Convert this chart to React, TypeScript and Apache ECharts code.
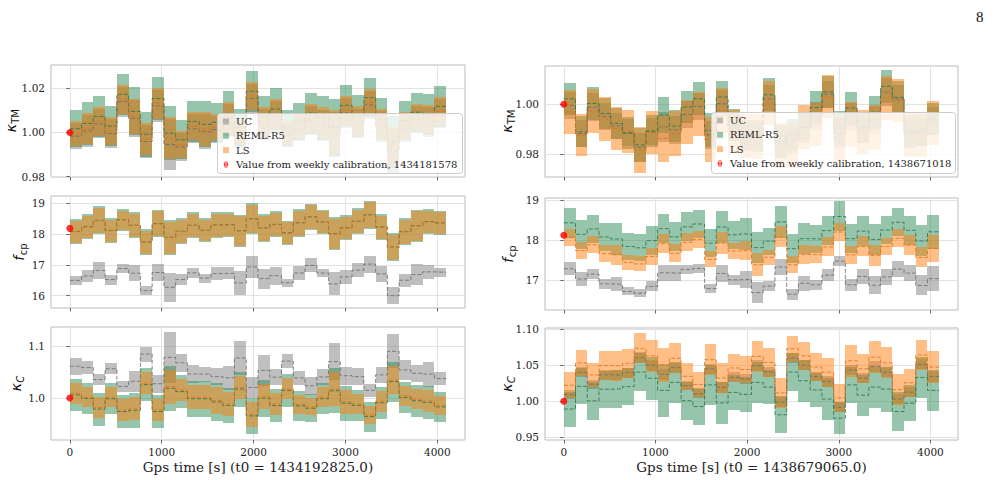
import React, { useEffect, useRef } from "react";
import * as echarts from "echarts";

// Bin start times [s]; each bin is 128 s long
const TIMES = [0, 128, 256, 384, 512, 640, 768, 896, 1024, 1152, 1280, 1408, 1536, 1664, 1792, 1920, 2048, 2176, 2304, 2432, 2560, 2688, 2816, 2944, 3072, 3200, 3328, 3456, 3584, 3712, 3840, 3968];
const BIN = 128;
const T_END = 4096;

// ---- Left column (t0 = 1434192825.0) ----
// kappa_TM
const L_KTM_UC_MED = [0.9983, 1.0008, 1.0039, 0.9995, 1.0140, 1.0063, 0.9959, 1.0121, 0.9945, 0.9934, 1.0017, 1.0004, 1.0013, 1.0053, 0.9991, 1.0154, 1.0038, 1.0073, 0.9988, 1.0018, 1.0054, 1.0032, 0.9990, 1.0089, 1.0040, 1.0125, 1.0028, 0.9913, 1.0019, 1.0059, 1.0048, 1.0085];
const L_KTM_UC_ERR = [0.0058, 0.0072, 0.0066, 0.0064, 0.0068, 0.0082, 0.0076, 0.0072, 0.0115, 0.0063, 0.0066, 0.0079, 0.0062, 0.0075, 0.0058, 0.0066, 0.0070, 0.0070, 0.0055, 0.0057, 0.0067, 0.0072, 0.0102, 0.0067, 0.0067, 0.0062, 0.0070, 0.0103, 0.0061, 0.0063, 0.0067, 0.0066];
const L_KTM_REML_MED = [1.0017, 1.0041, 1.0073, 1.0029, 1.0173, 1.0096, 0.9992, 1.0154, 0.9997, 0.9967, 1.0050, 1.0037, 1.0046, 1.0086, 1.0024, 1.0187, 1.0071, 1.0106, 1.0021, 1.0051, 1.0088, 1.0066, 1.0024, 1.0123, 1.0074, 1.0158, 1.0061, 0.9958, 1.0053, 1.0092, 1.0082, 1.0118];
const L_KTM_REML_ERR = [0.0085, 0.0098, 0.0093, 0.0091, 0.0094, 0.0108, 0.0102, 0.0098, 0.0122, 0.0089, 0.0092, 0.0105, 0.0088, 0.0101, 0.0084, 0.0092, 0.0096, 0.0096, 0.0081, 0.0083, 0.0093, 0.0098, 0.0129, 0.0093, 0.0094, 0.0088, 0.0096, 0.0118, 0.0088, 0.0089, 0.0094, 0.0092];
const L_KTM_LS_MED = [0.9995, 1.0019, 1.0051, 1.0007, 1.0151, 1.0074, 0.9970, 1.0132, 0.9975, 0.9945, 1.0028, 1.0015, 1.0024, 1.0064, 1.0002, 1.0165, 1.0049, 1.0084, 0.9999, 1.0029, 1.0066, 1.0044, 1.0002, 1.0101, 1.0052, 1.0136, 1.0039, 0.9936, 1.0031, 1.0070, 1.0060, 1.0096];
const L_KTM_LS_ERR = [0.0057, 0.0070, 0.0065, 0.0063, 0.0066, 0.0080, 0.0074, 0.0070, 0.0094, 0.0061, 0.0064, 0.0077, 0.0060, 0.0073, 0.0056, 0.0064, 0.0068, 0.0068, 0.0053, 0.0055, 0.0065, 0.0070, 0.0100, 0.0065, 0.0066, 0.0060, 0.0068, 0.0090, 0.0060, 0.0061, 0.0066, 0.0064];

// f_cp
const L_FCP_UC_MED = [16.495, 16.636, 16.816, 16.522, 16.881, 16.728, 16.163, 16.75, 16.272, 16.522, 16.739, 16.571, 16.718, 16.723, 16.413, 16.93, 16.554, 16.647, 16.419, 16.734, 16.979, 16.734, 16.381, 16.609, 16.826, 17.022, 16.707, 16.0, 16.5, 16.685, 16.772, 16.756];
const L_FCP_UC_ERR = [0.136, 0.19, 0.283, 0.163, 0.131, 0.261, 0.152, 0.283, 0.478, 0.185, 0.163, 0.147, 0.218, 0.19, 0.38, 0.353, 0.326, 0.288, 0.136, 0.234, 0.228, 0.125, 0.37, 0.218, 0.217, 0.272, 0.261, 0.283, 0.217, 0.326, 0.218, 0.147];
const L_FCP_REML_MED = [18.082, 18.234, 18.44, 18.114, 18.462, 18.283, 17.739, 18.337, 17.892, 18.087, 18.283, 18.12, 18.294, 18.299, 18.104, 18.495, 18.196, 18.31, 18.038, 18.364, 18.554, 18.386, 18.011, 18.201, 18.413, 18.62, 18.228, 17.571, 18.076, 18.267, 18.402, 18.359];
const L_FCP_REML_ERR = [0.397, 0.408, 0.451, 0.397, 0.353, 0.424, 0.424, 0.446, 0.566, 0.424, 0.424, 0.392, 0.414, 0.408, 0.517, 0.506, 0.446, 0.419, 0.397, 0.451, 0.424, 0.397, 0.533, 0.397, 0.424, 0.457, 0.424, 0.451, 0.435, 0.517, 0.413, 0.392];
const L_FCP_LS_MED = [18.072, 18.224, 18.43, 18.104, 18.452, 18.273, 17.729, 18.327, 17.882, 18.077, 18.273, 18.11, 18.284, 18.289, 18.094, 18.485, 18.186, 18.3, 18.028, 18.354, 18.544, 18.376, 18.001, 18.191, 18.403, 18.61, 18.218, 17.561, 18.066, 18.257, 18.392, 18.349];
const L_FCP_LS_ERR = [0.352, 0.363, 0.406, 0.352, 0.308, 0.379, 0.379, 0.401, 0.521, 0.379, 0.379, 0.347, 0.369, 0.363, 0.472, 0.461, 0.401, 0.374, 0.352, 0.406, 0.379, 0.352, 0.488, 0.352, 0.379, 0.412, 0.379, 0.406, 0.39, 0.472, 0.368, 0.347];

// kappa_C
const L_KC_UC_MED = [1.0609, 1.0584, 1.0353, 1.0561, 1.0221, 1.0321, 1.0843, 1.0273, 1.0779, 1.0676, 1.0459, 1.0459, 1.041, 1.0388, 1.0769, 1.0202, 1.0529, 1.0401, 1.0708, 1.0385, 1.0234, 1.0404, 1.0699, 1.0427, 1.041, 1.0145, 1.0443, 1.0897, 1.0539, 1.0475, 1.0459, 1.0372];
const L_KC_UC_ERR = [0.0167, 0.0129, 0.0103, 0.0106, 0.0112, 0.0199, 0.0144, 0.017, 0.0497, 0.017, 0.0177, 0.0145, 0.016, 0.0234, 0.0327, 0.0208, 0.0298, 0.0151, 0.0138, 0.0135, 0.0176, 0.0154, 0.0353, 0.0177, 0.016, 0.0119, 0.0161, 0.0327, 0.0193, 0.0161, 0.0241, 0.0122];
const L_KC_REML_MED = [1.0058, 0.999, 0.9786, 0.9984, 0.9738, 0.976, 1.0256, 0.9738, 1.0186, 1.0122, 0.9984, 0.9984, 0.992, 0.9856, 1.017, 0.9654, 0.9994, 0.9853, 1.0144, 0.9847, 0.9802, 0.9984, 1.0138, 0.9898, 0.9856, 0.9641, 0.9907, 1.0314, 1.001, 0.9946, 0.9914, 0.9827];
const L_KC_REML_ERR = [0.0308, 0.0305, 0.0318, 0.0298, 0.0321, 0.033, 0.0314, 0.0321, 0.0436, 0.032, 0.0343, 0.0343, 0.0362, 0.0343, 0.0337, 0.0353, 0.0353, 0.032, 0.0311, 0.0289, 0.027, 0.0298, 0.0433, 0.034, 0.0298, 0.0288, 0.0311, 0.0385, 0.0305, 0.0305, 0.0318, 0.0295];
const L_KC_LS_MED = [1.0088, 1.002, 0.9816, 1.0014, 0.9768, 0.979, 1.0286, 0.9768, 1.0216, 1.0152, 1.0014, 1.0014, 0.995, 0.9886, 1.02, 0.9684, 1.0024, 0.9883, 1.0174, 0.9877, 0.9832, 1.0014, 1.0168, 0.9928, 0.9886, 0.9671, 0.9937, 1.0344, 1.004, 0.9976, 0.9944, 0.9857];
const L_KC_LS_ERR = [0.0198, 0.0195, 0.0208, 0.0188, 0.0211, 0.022, 0.0204, 0.0211, 0.0326, 0.021, 0.0233, 0.0233, 0.0252, 0.0233, 0.0227, 0.0243, 0.0243, 0.021, 0.0201, 0.0179, 0.016, 0.0188, 0.0323, 0.023, 0.0188, 0.0178, 0.0201, 0.0275, 0.0195, 0.0195, 0.0208, 0.0185];

// ---- Right column (t0 = 1438679065.0) ----
// kappa_TM
const R_KTM_UC_MED = [0.9995, 0.9882, 0.9988, 0.9951, 0.9913, 0.9886, 0.9826, 0.9889, 0.9909, 0.9897, 0.9959, 0.9991, 0.9877, 1.0002, 0.9904, 0.9873, 0.9871, 1.0021, 0.9842, 0.9855, 0.9908, 0.9952, 1.0040, 0.9882, 0.9951, 0.9897, 0.9936, 1.0049, 1.0021, 0.9884, 0.9887, 0.9932];
const R_KTM_UC_ERR = [0.0055, 0.0054, 0.0056, 0.0055, 0.0053, 0.0055, 0.0057, 0.0054, 0.0060, 0.0056, 0.0055, 0.0056, 0.0057, 0.0055, 0.0054, 0.0053, 0.0055, 0.0056, 0.0057, 0.0055, 0.0054, 0.0056, 0.0055, 0.0058, 0.0055, 0.0054, 0.0056, 0.0056, 0.0055, 0.0056, 0.0055, 0.0055];
const R_KTM_REML_MED = [1.0022, 0.9889, 1.0003, 0.9963, 0.9923, 0.9883, 0.9836, 0.9892, 0.9956, 0.9912, 0.9989, 1.0022, 0.9895, 1.0029, 0.9917, 0.9875, 0.9871, 1.0038, 0.9850, 0.9877, 0.9907, 0.9987, 1.0049, 0.9904, 0.9985, 0.9907, 0.9968, 1.0072, 1.0028, 0.9891, 0.9897, 0.9940];
const R_KTM_REML_ERR = [0.0065, 0.0063, 0.0066, 0.0064, 0.0062, 0.0065, 0.0068, 0.0063, 0.0072, 0.0066, 0.0064, 0.0067, 0.0069, 0.0066, 0.0064, 0.0062, 0.0065, 0.0066, 0.0067, 0.0064, 0.0063, 0.0066, 0.0065, 0.0068, 0.0064, 0.0063, 0.0066, 0.0067, 0.0065, 0.0066, 0.0064, 0.0065];
const R_KTM_LS_MED = [0.9969, 0.9875, 0.9973, 0.9940, 0.9903, 0.9889, 0.9815, 0.9886, 0.9862, 0.9882, 0.9929, 0.9960, 0.9859, 0.9975, 0.9891, 0.9871, 0.9871, 1.0005, 0.9834, 0.9833, 0.9909, 0.9918, 1.0030, 0.9861, 0.9918, 0.9887, 0.9905, 1.0026, 1.0015, 0.9878, 0.9878, 0.9925];
const R_KTM_LS_ERR = [0.0090, 0.0085, 0.0088, 0.0090, 0.0087, 0.0086, 0.0092, 0.0088, 0.0095, 0.0089, 0.0090, 0.0088, 0.0091, 0.0090, 0.0087, 0.0089, 0.0090, 0.0088, 0.0090, 0.0091, 0.0089, 0.0088, 0.0087, 0.0092, 0.0090, 0.0089, 0.0091, 0.0088, 0.0087, 0.0090, 0.0091, 0.0089];

// f_cp
const R_FCP_UC_MED = [17.286, 17.033, 17.154, 16.913, 16.901, 16.722, 16.677, 16.847, 17.187, 17.179, 17.27, 17.295, 16.793, 17.17, 17.013, 17.021, 16.693, 16.855, 17.332, 16.652, 16.926, 16.888, 17.129, 17.477, 16.888, 17.096, 16.876, 17.083, 17.278, 17.179, 16.871, 17.042];
const R_FCP_UC_ERR = [0.166, 0.17, 0.125, 0.125, 0.179, 0.1, 0.104, 0.125, 0.199, 0.208, 0.116, 0.117, 0.113, 0.216, 0.125, 0.216, 0.261, 0.116, 0.195, 0.137, 0.187, 0.125, 0.158, 0.133, 0.149, 0.191, 0.22, 0.195, 0.207, 0.208, 0.249, 0.303];
const R_FCP_REML_MED = [18.432, 18.145, 18.278, 18.079, 18.029, 17.842, 17.809, 17.988, 18.286, 18.083, 18.332, 18.403, 17.925, 18.328, 18.133, 18.154, 17.813, 17.975, 18.453, 17.788, 18.037, 18.029, 18.237, 18.59, 18.037, 18.224, 18.017, 18.253, 18.444, 18.245, 17.979, 18.208];
const R_FCP_REML_ERR = [0.366, 0.361, 0.353, 0.345, 0.394, 0.332, 0.34, 0.353, 0.361, 0.365, 0.365, 0.353, 0.357, 0.403, 0.349, 0.395, 0.386, 0.34, 0.403, 0.361, 0.386, 0.353, 0.353, 0.374, 0.361, 0.382, 0.382, 0.353, 0.353, 0.361, 0.386, 0.424];
const R_FCP_LS_MED = [18.067, 17.739, 17.884, 17.668, 17.635, 17.448, 17.407, 17.594, 17.913, 17.672, 17.946, 18.017, 17.519, 17.925, 17.73, 17.747, 17.386, 17.573, 18.079, 17.386, 17.643, 17.635, 17.83, 18.203, 17.635, 17.842, 17.623, 17.843, 18.046, 17.876, 17.569, 17.793];
const R_FCP_LS_ERR = [0.208, 0.204, 0.208, 0.216, 0.249, 0.187, 0.187, 0.208, 0.237, 0.228, 0.228, 0.216, 0.199, 0.274, 0.195, 0.237, 0.291, 0.187, 0.262, 0.208, 0.241, 0.208, 0.237, 0.22, 0.224, 0.249, 0.262, 0.208, 0.229, 0.241, 0.249, 0.341];

// kappa_C
const R_KC_UC_MED = [1.0093, 1.0403, 1.0236, 1.0368, 1.0361, 1.0398, 1.0606, 1.0502, 1.0375, 1.0468, 1.0217, 1.0104, 1.0449, 1.0194, 1.0333, 1.0312, 1.0495, 1.041, 0.9986, 1.0602, 1.0502, 1.0345, 1.0275, 0.9916, 1.0433, 1.0322, 1.0484, 1.0405, 1.0032, 1.0127, 1.0514, 1.0345];
const R_KC_UC_ERR = [0.0068, 0.0071, 0.0066, 0.0072, 0.0070, 0.0069, 0.0073, 0.0075, 0.0078, 0.0071, 0.0067, 0.0065, 0.0072, 0.0074, 0.0068, 0.0069, 0.0073, 0.0070, 0.0072, 0.0068, 0.0070, 0.0069, 0.0071, 0.0067, 0.0074, 0.0071, 0.0076, 0.0073, 0.0072, 0.0068, 0.0071, 0.0075];
const R_KC_REML_MED = [0.9891, 1.0208, 1.0005, 1.0167, 1.0174, 1.0204, 1.0406, 1.032, 1.0151, 1.0262, 1.0007, 0.9926, 1.0227, 0.9977, 1.0123, 1.0095, 1.0262, 1.0197, 0.9811, 1.0406, 1.0285, 1.0158, 1.003, 0.9764, 1.0227, 1.0084, 1.0197, 1.0169, 0.9857, 0.9973, 1.0331, 1.0151];
const R_KC_REML_ERR = [0.0243, 0.025, 0.0269, 0.0255, 0.0262, 0.0255, 0.0262, 0.0301, 0.0364, 0.029, 0.0266, 0.0255, 0.0278, 0.0296, 0.0243, 0.0248, 0.029, 0.0239, 0.0255, 0.0262, 0.029, 0.0232, 0.0289, 0.0222, 0.0255, 0.0283, 0.0285, 0.0313, 0.0269, 0.0255, 0.0289, 0.0285];
const R_KC_LS_MED = [1.0223, 1.0533, 1.0366, 1.0498, 1.0491, 1.0528, 1.0736, 1.0632, 1.0505, 1.0598, 1.0347, 1.0234, 1.0579, 1.0324, 1.0463, 1.0442, 1.0625, 1.054, 1.0116, 1.0732, 1.0632, 1.0475, 1.0405, 1.0046, 1.0563, 1.0452, 1.0614, 1.0535, 1.0162, 1.0257, 1.0644, 1.0475];
const R_KC_LS_ERR = [0.0181, 0.0181, 0.0162, 0.0202, 0.0209, 0.0199, 0.0208, 0.022, 0.0232, 0.0209, 0.019, 0.0169, 0.0213, 0.0213, 0.019, 0.0192, 0.0213, 0.0197, 0.0213, 0.0181, 0.0197, 0.0193, 0.0201, 0.019, 0.022, 0.0202, 0.0225, 0.0216, 0.0213, 0.0192, 0.0209, 0.0225];

// Weekly calibration reference values (plotted at t = 0)
const L_WEEKLY = [1.0, 18.18, 1.0];
const R_WEEKLY = [1.0, 18.12, 1.0];
const L_WEEKLY_NAME = "Value from weekly calibration, 1434181578";
const R_WEEKLY_NAME = "Value from weekly calibration, 1438671018";
const L_T0 = "Gps time [s] (t0 = 1434192825.0)";
const R_T0 = "Gps time [s] (t0 = 1438679065.0)";

const X_TICKS = [0, 1000, 2000, 3000, 4000];

const C_UC = "rgba(128,128,128,0.5)";
const C_REML = "rgba(46,139,87,0.5)";
const C_LS = "rgba(255,127,14,0.5)";
const D_UC = "rgba(110,110,110,0.85)";
const D_REML = "rgba(40,120,75,0.85)";
const D_LS = "rgba(225,115,30,0.85)";

const SERIF = "DejaVu Serif";
const ERR_ICON = "path://M0,5a4,4 0 1,0 8,0a4,4 0 1,0 -8,0z M3.3,0h1.4v10h-1.4z M1.5,0h5v1.2h-5z M1.5,8.8h5v1.2h-5z";

// Axis label pieces: main symbol, subscript, whether the subscript is italic
type Label = { main: string; sub: string; subItalic: boolean; mainW: number; subW: number };
const LBL_KTM: Label = { main: "κ", sub: "TM", subItalic: false, mainW: 8.5, subW: 14 };
const LBL_FCP: Label = { main: "f", sub: "cp", subItalic: false, mainW: 5.5, subW: 12 };
const LBL_KC: Label = { main: "κ", sub: "C", subItalic: true, mainW: 8.5, subW: 7 };

type Panel = {
  grid: { left: number; top: number; width: number; height: number };
  yMin: number;
  yMax: number;
  yTicks: number[];
  digits: number;
  label: Label;
  labelX: number;
  xName: string | null;
  uc: [number[], number[]];
  reml: [number[], number[]];
  ls: [number[], number[]];
  weekly: number;
  weeklyName: string;
};

const PANELS: Panel[] = [
  { grid: { left: 51, top: 65, width: 414, height: 112 }, yMin: 0.9798, yMax: 1.0306, yTicks: [0.98, 1.0, 1.02], digits: 2, label: LBL_KTM, labelX: 11, xName: null, uc: [L_KTM_UC_MED, L_KTM_UC_ERR], reml: [L_KTM_REML_MED, L_KTM_REML_ERR], ls: [L_KTM_LS_MED, L_KTM_LS_ERR], weekly: L_WEEKLY[0], weeklyName: L_WEEKLY_NAME },
  { grid: { left: 51, top: 196, width: 414, height: 112 }, yMin: 15.6, yMax: 19.23, yTicks: [16, 17, 18, 19], digits: 0, label: LBL_FCP, labelX: 19, xName: null, uc: [L_FCP_UC_MED, L_FCP_UC_ERR], reml: [L_FCP_REML_MED, L_FCP_REML_ERR], ls: [L_FCP_LS_MED, L_FCP_LS_ERR], weekly: L_WEEKLY[1], weeklyName: L_WEEKLY_NAME },
  { grid: { left: 51, top: 327, width: 414, height: 113 }, yMin: 0.919, yMax: 1.1365, yTicks: [1.0, 1.1], digits: 1, label: LBL_KC, labelX: 16, xName: L_T0, uc: [L_KC_UC_MED, L_KC_UC_ERR], reml: [L_KC_REML_MED, L_KC_REML_ERR], ls: [L_KC_LS_MED, L_KC_LS_ERR], weekly: L_WEEKLY[2], weeklyName: L_WEEKLY_NAME },
  { grid: { left: 545, top: 66, width: 413, height: 111 }, yMin: 0.9707, yMax: 1.0154, yTicks: [0.98, 1.0], digits: 2, label: LBL_KTM, labelX: 507, xName: null, uc: [R_KTM_UC_MED, R_KTM_UC_ERR], reml: [R_KTM_REML_MED, R_KTM_REML_ERR], ls: [R_KTM_LS_MED, R_KTM_LS_ERR], weekly: R_WEEKLY[0], weeklyName: R_WEEKLY_NAME },
  { grid: { left: 545, top: 198, width: 413, height: 112 }, yMin: 16.26, yMax: 19.05, yTicks: [17, 18, 19], digits: 0, label: LBL_FCP, labelX: 508, xName: null, uc: [R_FCP_UC_MED, R_FCP_UC_ERR], reml: [R_FCP_REML_MED, R_FCP_REML_ERR], ls: [R_FCP_LS_MED, R_FCP_LS_ERR], weekly: R_WEEKLY[1], weeklyName: R_WEEKLY_NAME },
  { grid: { left: 545, top: 328, width: 413, height: 112 }, yMin: 0.946, yMax: 1.102, yTicks: [0.95, 1.0, 1.05, 1.1], digits: 2, label: LBL_KC, labelX: 507, xName: R_T0, uc: [R_KC_UC_MED, R_KC_UC_ERR], reml: [R_KC_REML_MED, R_KC_REML_ERR], ls: [R_KC_LS_MED, R_KC_LS_ERR], weekly: R_WEEKLY[2], weeklyName: R_WEEKLY_NAME },
];

// Legend boxes (left/top/width/height) for the two top panels
const LEGEND_BOXES = [
  { left: 217, top: 113, width: 245, height: 60, name: L_WEEKLY_NAME },
  { left: 711, top: 112, width: 244, height: 61, name: R_WEEKLY_NAME },
];

function band(name: string, color: string, idx: number, med: number[], err: number[]) {
  return {
    type: "custom",
    name,
    coordinateSystem: "cartesian2d",
    xAxisIndex: idx,
    yAxisIndex: idx,
    z: 2,
    silent: true,
    clip: true,
    itemStyle: { color },
    data: TIMES.map((t, i) => [t, med[i] - err[i], med[i] + err[i]]),
    renderItem: (_params: any, api: any) => {
      const t = api.value(0);
      const top = api.coord([t, api.value(2)]);
      const bot = api.coord([t + BIN, api.value(1)]);
      const x0 = Math.round(top[0]);
      const x1 = Math.round(bot[0]);
      const y0 = Math.round(top[1]);
      const y1 = Math.round(bot[1]);
      return {
        type: "rect",
        shape: { x: x0, y: y0, width: x1 - x0, height: y1 - y0 },
        style: { fill: color },
      };
    },
  };
}

function medianLine(name: string, color: string, idx: number, med: number[]) {
  return {
    type: "line",
    name,
    xAxisIndex: idx,
    yAxisIndex: idx,
    step: "end",
    symbol: "none",
    silent: true,
    z: 4,
    lineStyle: { color, width: 1, type: [4, 2] },
    data: [...TIMES.map((t, i) => [t, med[i]]), [T_END, med[med.length - 1]]],
  };
}

// Translucent white legend backdrop, drawn after every band and median line
function legendBackdrop() {
  return {
    type: "custom",
    name: "legend backdrop",
    coordinateSystem: "none",
    silent: true,
    z: 8,
    data: LEGEND_BOXES.map((_b, i) => [i]),
    renderItem: (params: any) => {
      const b = LEGEND_BOXES[params.dataIndex];
      return {
        type: "rect",
        shape: { x: b.left + 0.5, y: b.top + 0.5, width: b.width, height: b.height, r: 3 },
        style: { fill: "rgba(255,255,255,0.8)", stroke: "#cccccc", lineWidth: 1 },
      };
    },
  };
}

function legendFor(box: (typeof LEGEND_BOXES)[number]) {
  return {
    left: box.left,
    top: box.top,
    orient: "vertical",
    zlevel: 2,
    z: 10,
    selectedMode: false,
    padding: [3, 6, 3, 6],
    itemWidth: 10,
    itemHeight: 6,
    itemGap: 3.3,
    symbolKeepAspect: true,
    textStyle: { fontFamily: SERIF, fontSize: 10, color: "#222", lineHeight: 11 },
    data: [
      { name: "UC", icon: "path://M0,0h10v10h-10z", itemStyle: { color: C_UC } },
      { name: "REML-R5", icon: "path://M0,0h10v10h-10z", itemStyle: { color: C_REML } },
      { name: "LS", icon: "path://M0,0h10v10h-10z", itemStyle: { color: C_LS } },
      { name: box.name, icon: ERR_ICON, itemStyle: { color: "#ff0000" } },
    ],
  };
}

function yLabel(p: Panel) {
  const l = p.label;
  const total = l.mainW + l.subW;
  const cy = p.grid.top + p.grid.height / 2;
  return {
    type: "group",
    x: p.labelX,
    y: cy,
    rotation: Math.PI / 2,
    silent: true,
    children: [
      {
        type: "text",
        x: -total / 2,
        y: 0,
        style: {
          text: l.main,
          fontFamily: "DejaVu Sans",
          fontStyle: "italic",
          fontSize: 14,
          fill: "#111",
          align: "left",
          verticalAlign: "middle",
        },
      },
      {
        type: "text",
        x: -total / 2 + l.mainW,
        y: 4,
        style: {
          text: l.sub,
          fontFamily: "DejaVu Sans",
          fontStyle: l.subItalic ? "italic" : "normal",
          fontSize: 10,
          fill: "#111",
          align: "left",
          verticalAlign: "middle",
        },
      },
    ],
  };
}

function buildOption() {
  const grid: any[] = [];
  const xAxis: any[] = [];
  const yAxis: any[] = [];
  const series: any[] = [];

  PANELS.forEach((p, idx) => {
    grid.push({ ...p.grid, show: true, borderColor: "#bbbbbb", borderWidth: 1, backgroundColor: "transparent" });
    xAxis.push({
      type: "value",
      gridIndex: idx,
      min: -204.8,
      max: 4300.8,
      axisLine: { show: false },
      axisTick: { show: true, length: 3.5, customValues: X_TICKS, lineStyle: { color: "#444", width: 0.8 } },
      axisLabel: {
        show: p.xName !== null,
        customValues: X_TICKS,
        margin: 6,
        fontFamily: SERIF,
        fontSize: 10.5,
        color: "#222",
        formatter: (v: number) => String(Math.round(v)),
      },
      splitLine: { show: true, lineStyle: { color: "#e2e2e2", width: 1 } },
      name: p.xName ?? "",
      nameLocation: "middle",
      nameGap: 20,
      nameTextStyle: { fontFamily: SERIF, fontSize: 13.5, color: "#222" },
    });
    yAxis.push({
      type: "value",
      gridIndex: idx,
      min: p.yMin,
      max: p.yMax,
      axisLine: { show: false },
      axisTick: { show: true, length: 3.5, customValues: p.yTicks, lineStyle: { color: "#444", width: 0.8 } },
      axisLabel: {
        customValues: p.yTicks,
        margin: 6,
        fontFamily: SERIF,
        fontSize: 10.5,
        color: "#222",
        formatter: (v: number) => v.toFixed(p.digits),
      },
      splitLine: { show: true, lineStyle: { color: "#e2e2e2", width: 1 } },
    });

    series.push(band("UC", C_UC, idx, p.uc[0], p.uc[1]));
    series.push(band("REML-R5", C_REML, idx, p.reml[0], p.reml[1]));
    series.push(band("LS", C_LS, idx, p.ls[0], p.ls[1]));
    series.push(medianLine("UC median", D_UC, idx, p.uc[0]));
    series.push(medianLine("REML-R5 median", D_REML, idx, p.reml[0]));
    series.push(medianLine("LS median", D_LS, idx, p.ls[0]));
    series.push({
      type: "scatter",
      name: p.weeklyName,
      xAxisIndex: idx,
      yAxisIndex: idx,
      symbol: "circle",
      symbolSize: 7,
      z: 6,
      silent: true,
      itemStyle: { color: "#ff0000" },
      data: [[0, p.weekly]],
    });
  });
  series.push(legendBackdrop());

  const graphic: any[] = [
    {
      type: "text",
      left: 976,
      top: 9,
      style: { text: "8", fontFamily: "Liberation Serif", fontSize: 15, fill: "#111" },
    },
    ...PANELS.map(yLabel),
  ];

  return {
    animation: false,
    backgroundColor: "#ffffff",
    grid,
    xAxis,
    yAxis,
    series,
    legend: LEGEND_BOXES.map(legendFor),
    graphic,
  };
}

export default function App() {
  const ref = useRef<HTMLDivElement>(null);
  useEffect(() => {
    if (!ref.current) return;
    const chart = echarts.init(ref.current, null, { renderer: "svg" });
    chart.setOption(buildOption() as any);
    return () => chart.dispose();
  }, []);
  return (
    <div
      ref={ref}
      style={{ position: "fixed", left: 0, top: 0, width: 995, height: 480, background: "#fff" }}
    />
  );
}
